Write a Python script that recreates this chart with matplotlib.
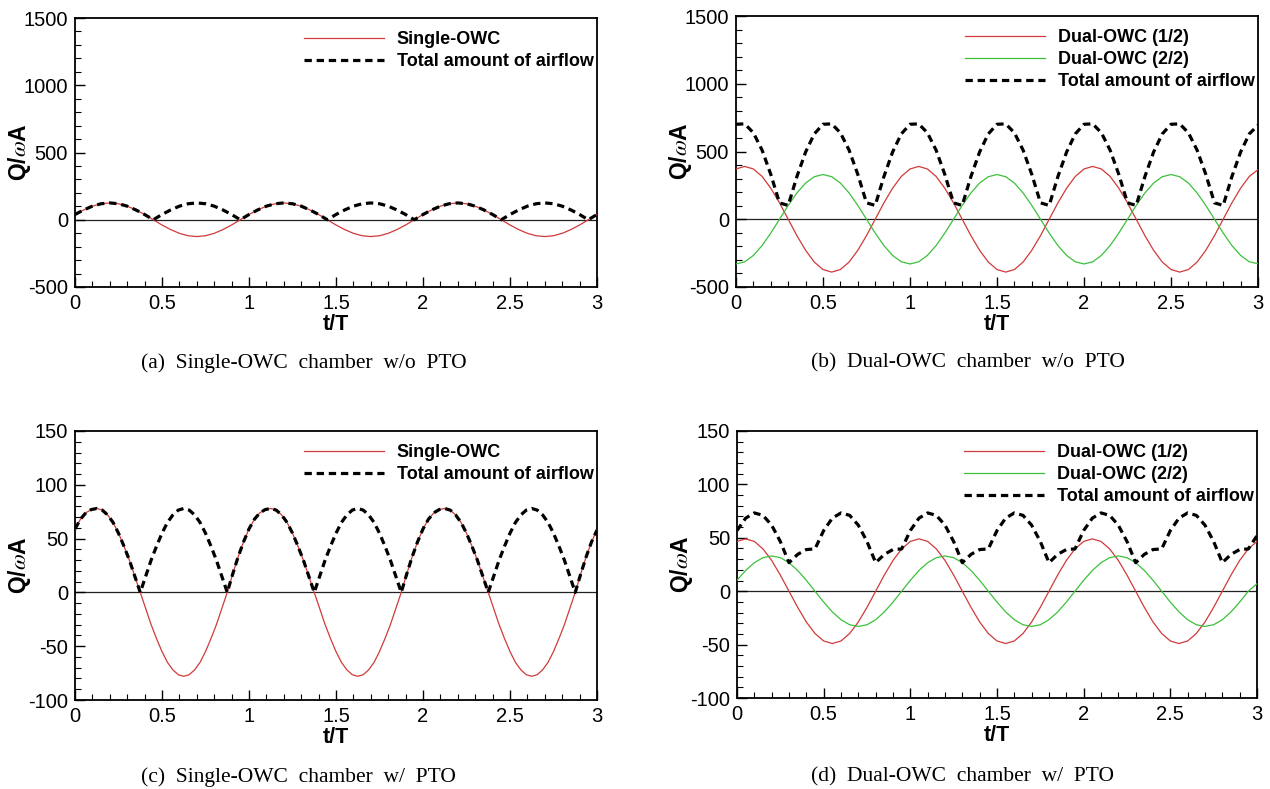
import numpy as np
import matplotlib
matplotlib.use("Agg")
import matplotlib.pyplot as plt
from matplotlib.ticker import MultipleLocator, FuncFormatter

# -----------------------------
# Dados
# -----------------------------
# eixo do tempo (t/T)
t_a = np.linspace(0, 3, 61)   # passo 0.05
t_b = np.linspace(0, 3, 61)
t_c = np.linspace(0, 3, 97)   # passo 1/32
t_d = np.linspace(0, 3, 61)

# (a) Single-OWC sem PTO
single_a = [39, 73, 101, 119, 125, 119, 101, 73, 39, 0, -39, -73, -101, -119, -125, -119, -101, -73, -39, 0,
            39, 73, 101, 119, 125, 119, 101, 73, 39, 0, -39, -73, -101, -119, -125, -119, -101, -73, -39, 0,
            39, 73, 101, 119, 125, 119, 101, 73, 39, 0, -39, -73, -101, -119, -125, -119, -101, -73, -39, 0,
            39]
total_a = [39, 73, 101, 119, 125, 119, 101, 73, 39, 0, 39, 73, 101, 119, 125, 119, 101, 73, 39, 0,
           39, 73, 101, 119, 125, 119, 101, 73, 39, 0, 39, 73, 101, 119, 125, 119, 101, 73, 39, 0,
           39, 73, 101, 119, 125, 119, 101, 73, 39, 0, 39, 73, 101, 119, 125, 119, 101, 73, 39, 0,
           39]

# (b) Dual-OWC sem PTO
dual1_b = [371, 390, 371, 316, 229, 121, 0, -121, -229, -316, -371, -390, -371, -316, -229, -121, 0, 121, 229, 316,
           371, 390, 371, 316, 229, 121, 0, -121, -229, -316, -371, -390, -371, -316, -229, -121, 0, 121, 229, 316,
           371, 390, 371, 316, 229, 121, 0, -121, -229, -316, -371, -390, -371, -316, -229, -121, 0, 121, 229, 316,
           366]
dual2_b = [-330, -314, -267, -194, -102, 0, 102, 194, 267, 314, 330, 314, 267, 194, 102, 0, -102, -194, -267, -314,
           -330, -314, -267, -194, -102, 0, 102, 194, 267, 314, 330, 314, 267, 194, 102, 0, -102, -194, -267, -314,
           -330, -314, -267, -194, -102, 0, 102, 194, 267, 314, 330, 314, 267, 194, 102, 0, -102, -194, -267, -314,
           -328]
total_b = [701, 704, 638, 510, 331, 121, 102, 315, 496, 630, 701, 704, 638, 510, 331, 121, 102, 315, 496, 630,
           701, 704, 638, 510, 331, 121, 102, 315, 496, 630, 701, 704, 638, 510, 331, 121, 102, 315, 496, 630,
           701, 704, 638, 510, 331, 121, 102, 315, 496, 630, 701, 704, 638, 510, 331, 121, 102, 315, 496, 630,
           694]

# (c) Single-OWC com PTO
single_c = [59, 68, 74, 77, 78, 76.5, 72, 65, 55, 43, 30, 15, 0, -15, -30, -43,
            -55, -65, -72, -76.5, -78, -76.5, -72, -65, -55, -43, -30, -15, 0, 17, 33, 47,
            59, 68, 74, 77, 78, 76.5, 72, 65, 55, 43, 30, 15, 0, -15, -30, -43,
            -55, -65, -72, -76.5, -78, -76.5, -72, -65, -55, -43, -30, -15, 0, 17, 33, 47,
            59, 68, 74, 77, 78, 76.5, 72, 65, 55, 43, 30, 15, 0, -15, -30, -43,
            -55, -65, -72, -76.5, -78, -76.5, -72, -65, -55, -43, -30, -15, 0, 17, 33, 47,
            58]
total_c = [59, 68, 74, 77, 78, 76.5, 72, 65, 55, 43, 30, 15, 0, 15, 30, 43,
           55, 65, 72, 76.5, 78, 76.5, 72, 65, 55, 43, 30, 15, 0, 17, 33, 47,
           59, 68, 74, 77, 78, 76.5, 72, 65, 55, 43, 30, 15, 0, 15, 30, 43,
           55, 65, 72, 76.5, 78, 76.5, 72, 65, 55, 43, 30, 15, 0, 17, 33, 47,
           59, 68, 74, 77, 78, 76.5, 72, 65, 55, 43, 30, 15, 0, 15, 30, 43,
           55, 65, 72, 76.5, 78, 76.5, 72, 65, 55, 43, 30, 15, 0, 17, 33, 47,
           58]

# (d) Dual-OWC com PTO
dual1_d = [46.6, 49, 46.6, 39.6, 28.8, 15.1, 0, -15.1, -28.8, -39.6, -46.6, -49, -46.6, -39.6, -28.8, -15.1, 0, 15.1, 28.8, 39.6,
           46.6, 49, 46.6, 39.6, 28.8, 15.1, 0, -15.1, -28.8, -39.6, -46.6, -49, -46.6, -39.6, -28.8, -15.1, 0, 15.1, 28.8, 39.6,
           46.6, 49, 46.6, 39.6, 28.8, 15.1, 0, -15.1, -28.8, -39.6, -46.6, -49, -46.6, -39.6, -28.8, -15.1, 0, 15.1, 28.8, 39.6,
           46.6]
dual2_d = [10.2, 19.4, 26.7, 31.4, 33, 31.4, 26.7, 19.4, 10.2, 0, -10.2, -19.4, -26.7, -31.4, -33, -31.4, -26.7, -19.4, -10.2, 0,
           10.2, 19.4, 26.7, 31.4, 33, 31.4, 26.7, 19.4, 10.2, 0, -10.2, -19.4, -26.7, -31.4, -33, -31.4, -26.7, -19.4, -10.2, 0,
           10.2, 19.4, 26.7, 31.4, 33, 31.4, 26.7, 19.4, 10.2, 0, -10.2, -19.4, -26.7, -31.4, -33, -31.4, -26.7, -19.4, -10.2, 0,
           7]
total_d = [56.8, 68.4, 73.3, 71.0, 61.8, 46.5, 26.7, 34.5, 39.0, 39.6, 56.8, 68.4, 73.3, 71.0, 61.8, 46.5, 26.7, 34.5, 39.0, 39.6,
           56.8, 68.4, 73.3, 71.0, 61.8, 46.5, 26.7, 34.5, 39.0, 39.6, 56.8, 68.4, 73.3, 71.0, 61.8, 46.5, 26.7, 34.5, 39.0, 39.6,
           56.8, 68.4, 73.3, 71.0, 61.8, 46.5, 26.7, 34.5, 39.0, 39.6, 56.8, 68.4, 73.3, 71.0, 61.8, 46.5, 26.7, 34.5, 39.0, 39.6,
           52]

captions = ["(a)  Single-OWC  chamber  w/o  PTO", "(b)  Dual-OWC  chamber  w/o  PTO",
            "(c)  Single-OWC  chamber  w/  PTO", "(d)  Dual-OWC  chamber  w/  PTO"]

RED = "#d03a3a"
GREEN = "#3cc03c"
DASH = (0, (2.3, 1.5))

plt.rcParams['font.family'] = ['Liberation Sans', 'DejaVu Sans']
plt.rcParams['mathtext.fontset'] = 'stix'
plt.rcParams['axes.unicode_minus'] = False

W, H = 1270, 789
fig = plt.figure(figsize=(W / 100, H / 100), dpi=100)


def add_ax(x0, x1, y0, y1):
    # posição em pixels -> fração da figura
    return fig.add_axes([x0 / W, 1 - y1 / H, (x1 - x0) / W, (y1 - y0) / H])


def style(ax, ylim, ymaj, ymin):
    ax.set_xlim(0, 3)
    ax.set_ylim(*ylim)
    ax.xaxis.set_major_locator(MultipleLocator(0.5))
    ax.xaxis.set_minor_locator(MultipleLocator(0.1))
    ax.yaxis.set_major_locator(MultipleLocator(ymaj))
    ax.yaxis.set_minor_locator(MultipleLocator(ymin))
    ax.xaxis.set_major_formatter(FuncFormatter(lambda v, p: f"{v:g}"))
    ax.yaxis.set_major_formatter(FuncFormatter(lambda v, p: f"{v:g}"))
    ax.tick_params(which='both', direction='in', top=False, right=False, labelsize=14.5)
    ax.tick_params(which='major', length=7, width=1.0, pad=5)
    ax.tick_params(which='minor', length=4, width=0.8)
    for s in ax.spines.values():
        s.set_linewidth(1.3)
    ax.axhline(0, color='#222222', lw=0.9, zorder=1)
    ax.set_xlabel("t/T", fontsize=15.5, fontweight='bold', labelpad=1)
    ax.set_ylabel(r"Q/$\omega$A", fontsize=16.5, fontweight='bold')
    # rótulo entre ~12 e ~28 px da borda esquerda
    ax.yaxis.set_label_coords(-0.08, 0.5)


def legend(ax):
    ax.legend(loc='upper right', bbox_to_anchor=(1.0, 0.965), frameon=False,
              prop={'weight': 'bold', 'size': 13},
              handlelength=4.4, handletextpad=0.7, labelspacing=0.28,
              borderaxespad=0.0, borderpad=0.2)


# (a)
ax = add_ax(75, 597, 18, 287)
ax.plot(t_a, single_a, color=RED, lw=0.9, label="Single-OWC", zorder=3)
ax.plot(t_a, total_a, color='black', lw=2.3, ls=DASH, label="Total amount of airflow", zorder=4)
style(ax, (-500, 1500), 500, 100)
legend(ax)

# (b)
ax = add_ax(736, 1258, 16, 287)
ax.plot(t_b, dual1_b, color=RED, lw=0.9, label="Dual-OWC (1/2)", zorder=3)
ax.plot(t_b, dual2_b, color=GREEN, lw=0.9, label="Dual-OWC (2/2)", zorder=3)
ax.plot(t_b, total_b, color='black', lw=2.3, ls=DASH, label="Total amount of airflow", zorder=4)
style(ax, (-500, 1500), 500, 100)
legend(ax)

# (c)
ax = add_ax(75, 597, 431, 700)
ax.plot(t_c, single_c, color=RED, lw=0.9, label="Single-OWC", zorder=3)
ax.plot(t_c, total_c, color='black', lw=2.3, ls=DASH, label="Total amount of airflow", zorder=4)
style(ax, (-100, 150), 50, 10)
legend(ax)

# (d)
ax = add_ax(737, 1257, 431, 698)
ax.plot(t_d, dual1_d, color=RED, lw=0.9, label="Dual-OWC (1/2)", zorder=3)
ax.plot(t_d, dual2_d, color=GREEN, lw=0.9, label="Dual-OWC (2/2)", zorder=3)
ax.plot(t_d, total_d, color='black', lw=2.3, ls=DASH, label="Total amount of airflow", zorder=4)
style(ax, (-100, 150), 50, 10)
legend(ax)

# legendas das figuras
cap_pos = [(141, 363), (811, 363), (141, 777), (811, 777)]
for (x, y), txt in zip(cap_pos, captions):
    fig.text(x / W, 1 - y / H, txt, family='Liberation Serif', fontsize=15.5, ha='left', va='center')

fig.savefig("out.png", dpi=100)
